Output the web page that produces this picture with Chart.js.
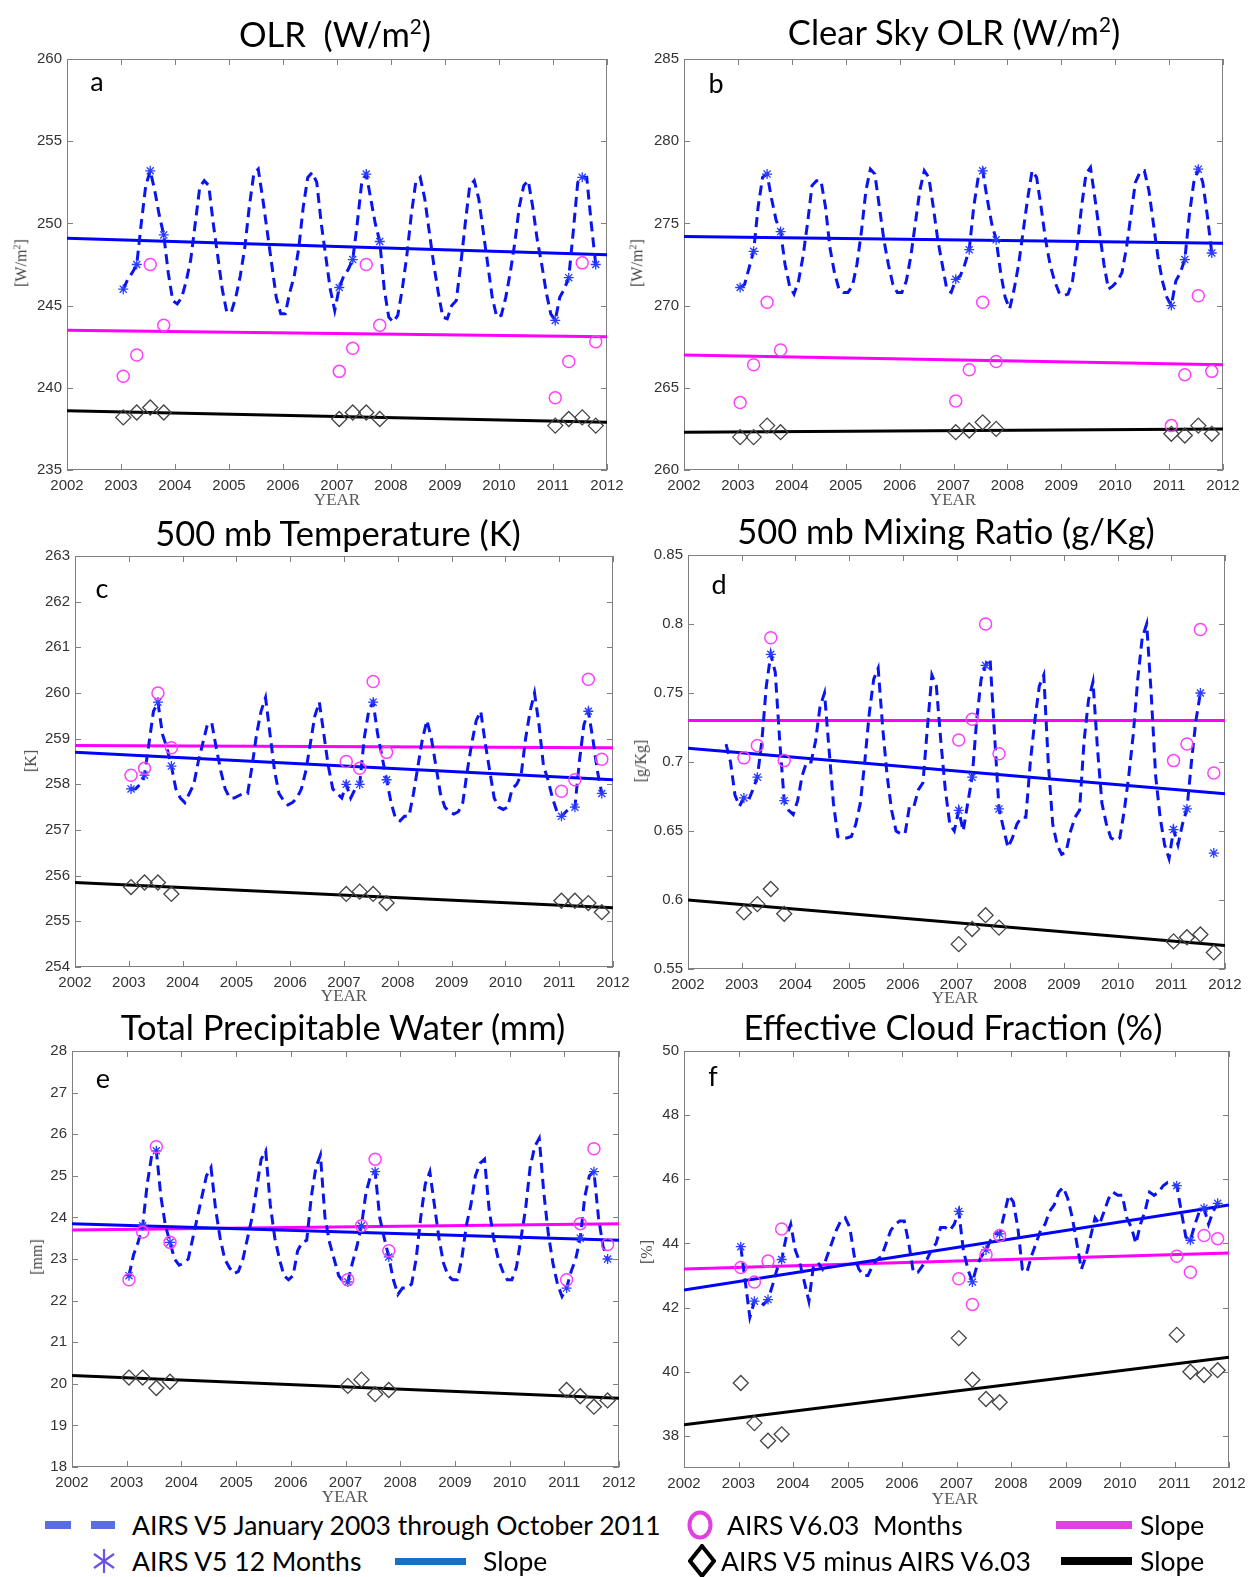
<!DOCTYPE html>
<html>
<head>
<meta charset="utf-8">
<script src="https://cdn.jsdelivr.net/npm/chart.js@4.4.1/dist/chart.umd.min.js"></script>
<style>
  body { margin:0; background:#fff; width:1248px; height:1577px; position:relative; overflow:hidden; font-family:Lato, "Open Sans", sans-serif; }
  canvas { position:absolute; }
  .title { position:absolute; font-size:34.5px; transform:translate(-50%,-50%); white-space:nowrap; color:#000; }
  .title sup { font-size:60%; }
  .letter { position:absolute; font-size:27px; transform:translate(-50%,-50%); color:#000; }
  .xlab { position:absolute; font-family:"Liberation Serif", serif; font-size:17px; color:#555; transform:translate(-50%,-50%); }
  .ylab { position:absolute; font-family:"Liberation Serif", serif; font-size:16px; color:#444; transform:translate(-50%,-50%) rotate(-90deg); white-space:nowrap; }
  .ylab sup { font-size:65%; }
  .leg { position:absolute; font-size:26.5px; color:#000; white-space:nowrap; transform:translateY(-50%); }
  .bar { position:absolute; }
</style>
</head>
<body>
<script>
// ---- shared axis data ----
const yearTicks = [2002, 2003, 2004, 2005, 2006, 2007, 2008, 2009, 2010, 2011, 2012];
const sampleYears = [2003, 2007, 2011];
const sampleMonths = [0, 3, 6, 9];      // Jan, Apr, Jul, Oct
const slopeYears = [2002, 2012];

// ---- a: OLR ----
const olrTicks = [235, 240, 245, 250, 255, 260];
const olrMonthly = [
  246.0, 246.6, 247.0, 247.5, 250.0, 252.3, 253.2, 252.0, 250.5, 249.3, 247.0, 245.3,
  245.1, 245.5, 246.5, 247.8, 250.0, 252.2, 252.6, 252.3, 250.0, 248.0, 246.0, 244.6,
  244.6, 245.5, 246.8, 248.5, 251.0, 253.0, 253.3, 251.5, 249.5, 247.5, 245.5, 244.5,
  244.5, 245.8, 246.8, 248.5, 251.0, 252.8, 253.1, 252.5, 250.0, 248.0, 246.0, 244.7,
  246.1, 246.8, 247.2, 247.8, 250.0, 252.5, 253.0, 251.5, 250.0, 248.9, 246.0, 244.3,
  244.0, 244.4, 246.0, 248.0, 250.5, 252.5, 252.8, 251.5, 249.5, 247.5, 245.8, 244.3,
  244.2, 245.0, 245.3, 247.5, 250.0, 252.3, 252.6, 251.5, 249.5, 247.5, 245.5, 244.3,
  244.4, 245.5, 247.0, 248.8, 251.0, 252.3, 252.6, 251.0, 249.0, 247.5, 245.8, 244.5,
  244.1, 245.5, 246.0, 246.7, 249.5, 252.5, 252.8, 252.8, 250.0, 247.5
];
const olrV5 = [246.0, 247.5, 253.2, 249.3, 246.1, 247.8, 253.0, 248.9, 244.1, 246.7, 252.8, 247.5];
const olrV6 = [240.7, 242.0, 247.5, 243.8, 241.0, 242.4, 247.5, 243.8, 239.4, 241.6, 247.6, 242.8];
const olrDiff = [238.2, 238.5, 238.8, 238.5, 238.1, 238.5, 238.5, 238.1, 237.7, 238.1, 238.2, 237.7];
const olrSlopeV5 = [249.1, 248.1];
const olrSlopeV6 = [243.5, 243.1];
const olrSlopeDiff = [238.6, 237.9];

// ---- b: Clear sky OLR ----
const clrTicks = [260, 265, 270, 275, 280, 285];
const clrMonthly = [
  271.1, 271.3, 272.3, 273.3, 276.0, 277.8, 278.0, 276.5, 275.2, 274.5, 272.5, 271.2,
  270.7, 271.5, 273.0, 275.0, 277.3, 277.6, 277.6, 276.0, 273.5, 272.0, 271.0, 270.8,
  270.8, 271.2, 272.5, 274.5, 277.0, 278.3, 278.0, 276.0, 274.0, 272.5, 271.3, 270.8,
  270.8, 271.5, 273.0, 275.0, 277.0, 278.2, 277.8, 276.0, 274.0, 272.5, 271.0, 270.8,
  271.6, 271.8, 272.5, 273.4, 276.0, 277.8, 278.2, 276.5, 275.0, 274.0, 272.0, 270.5,
  269.8, 271.0, 272.5, 274.5, 276.5, 278.2, 277.8, 276.0, 274.0, 272.5, 271.5, 270.8,
  270.6, 270.7, 271.5, 273.5, 276.0, 278.0, 278.4, 276.5, 274.5, 272.5, 271.0, 271.2,
  271.5, 272.0, 273.5, 275.5, 277.5, 278.1, 278.2, 277.0, 275.0, 273.0, 271.5, 270.5,
  270.0, 271.5, 272.0, 272.8, 275.5, 277.5, 278.3, 277.5, 275.5, 273.2
];
const clrV5 = [271.1, 273.3, 278.0, 274.5, 271.6, 273.4, 278.2, 274.0, 270.0, 272.8, 278.3, 273.2];
const clrV6 = [264.1, 266.4, 270.2, 267.3, 264.2, 266.1, 270.2, 266.6, 262.7, 265.8, 270.6, 266.0];
const clrDiff = [262.0, 262.0, 262.7, 262.3, 262.3, 262.4, 262.9, 262.5, 262.2, 262.1, 262.7, 262.2];
const clrSlopeV5 = [274.2, 273.8];
const clrSlopeV6 = [267.0, 266.4];
const clrSlopeDiff = [262.3, 262.5];

// ---- c: 500 mb temperature ----
const tmpTicks = [254, 255, 256, 257, 258, 259, 260, 261, 262, 263];
const tmpMonthly = [
  257.9, 257.9, 258.0, 258.2, 258.9, 259.6, 259.8, 259.1, 258.8, 258.4, 257.9, 257.7,
  257.6, 257.8, 258.0, 258.5, 258.9, 259.3, 259.35, 258.8, 258.3, 257.9, 257.7, 257.7,
  257.75, 257.8, 257.8, 258.4, 259.1, 259.6, 259.9, 259.1, 258.3, 257.8, 257.65, 257.55,
  257.6, 257.7, 257.9, 258.3, 258.9, 259.5, 259.8, 259.1, 258.4, 257.9, 257.8, 257.7,
  258.0, 257.7, 257.9, 258.0, 259.0, 259.6, 259.8, 259.1, 258.6, 258.1, 257.6, 257.25,
  257.2, 257.3, 257.3, 257.8, 258.4, 259.0, 259.4, 259.0, 258.4, 257.8, 257.5, 257.4,
  257.35, 257.4, 257.6, 258.3, 258.9, 259.4, 259.6, 258.9, 258.3, 257.7, 257.5, 257.45,
  257.5, 257.9, 258.0, 258.2, 259.0, 259.6, 260.0, 259.3, 258.4, 258.1, 257.7, 257.4,
  257.3, 257.4, 257.5, 257.5, 258.5, 259.3, 259.6, 259.0, 258.3, 257.8
];
const tmpV5 = [257.9, 258.2, 259.8, 258.4, 258.0, 258.0, 259.8, 258.1, 257.3, 257.5, 259.6, 257.8];
const tmpV6 = [258.2, 258.35, 260.0, 258.8, 258.5, 258.35, 260.25, 258.7, 257.85, 258.1, 260.3, 258.55];
const tmpDiff = [255.75, 255.85, 255.85, 255.6, 255.6, 255.65, 255.6, 255.4, 255.45, 255.45, 255.4, 255.2];
const tmpSlopeV5 = [258.7, 258.1];
const tmpSlopeV6 = [258.85, 258.8];
const tmpSlopeDiff = [255.85, 255.3];

// ---- d: 500 mb mixing ratio (monthly series starts Sep 2002) ----
const mixTicks = [0.55, 0.6, 0.65, 0.7, 0.75, 0.8, 0.85];
const mixFirstMonth = 2002 + 8 / 12;
const mixMonthly = [
  0.713, 0.700, 0.676, 0.668,
  0.674, 0.672, 0.680, 0.689, 0.715, 0.755, 0.778, 0.765, 0.715, 0.672, 0.665, 0.662,
  0.672, 0.690, 0.700, 0.700, 0.715, 0.740, 0.750, 0.710, 0.670, 0.646, 0.645, 0.645,
  0.646, 0.655, 0.670, 0.700, 0.735, 0.760, 0.768, 0.725, 0.690, 0.665, 0.650, 0.648,
  0.648, 0.668, 0.668, 0.680, 0.685, 0.725, 0.763, 0.755, 0.715, 0.680, 0.655, 0.650,
  0.665, 0.650, 0.670, 0.689, 0.730, 0.760, 0.770, 0.775, 0.720, 0.666, 0.652, 0.638,
  0.645, 0.655, 0.660, 0.660, 0.700, 0.730, 0.755, 0.763, 0.700, 0.655, 0.640, 0.633,
  0.635, 0.650, 0.660, 0.665, 0.715, 0.745, 0.758, 0.710, 0.670, 0.655, 0.645, 0.643,
  0.645, 0.665, 0.690, 0.720, 0.760, 0.790, 0.800, 0.750, 0.690, 0.660, 0.640, 0.630,
  0.651, 0.640, 0.655, 0.666, 0.700, 0.730, 0.750
];
const mixV5 = [0.674, 0.689, 0.778, 0.672, 0.665, 0.689, 0.770, 0.666, 0.651, 0.666, 0.750, 0.634];
const mixV6 = [0.703, 0.712, 0.790, 0.701, 0.716, 0.731, 0.800, 0.706, 0.701, 0.713, 0.796, 0.692];
const mixDiff = [0.591, 0.597, 0.608, 0.590, 0.568, 0.579, 0.589, 0.580, 0.570, 0.573, 0.575, 0.562];
const mixSlopeV5 = [0.710, 0.677];
const mixSlopeV6 = [0.730, 0.730];
const mixSlopeDiff = [0.600, 0.567];

// ---- e: total precipitable water ----
const tpwTicks = [18, 19, 20, 21, 22, 23, 24, 25, 26, 27, 28];
const tpwMonthly = [
  22.6, 23.1, 23.4, 23.8, 24.8, 25.5, 25.6, 24.5, 23.8, 23.4, 23.0, 22.85,
  22.9, 23.0, 23.5, 24.0, 24.5, 25.0, 25.2, 24.2, 23.5, 23.0, 22.8, 22.65,
  22.7, 23.0, 23.5, 24.0, 24.7, 25.4, 25.6, 24.3, 23.5, 23.0, 22.6, 22.5,
  22.6, 23.2, 23.4, 23.45, 24.5, 25.2, 25.5, 24.0, 23.4, 23.0, 22.6, 22.45,
  22.45, 22.9, 23.3, 23.8, 24.6, 25.0, 25.1, 24.0, 23.5, 23.05, 22.5, 22.15,
  22.3, 22.3, 22.4, 23.0, 24.0, 24.8, 25.1, 24.3, 23.5, 22.9, 22.6, 22.5,
  22.5, 23.0, 23.8, 24.3, 25.0, 25.3, 25.4, 24.2, 23.5, 23.0, 22.7, 22.5,
  22.5, 22.8, 23.5, 24.2, 25.2, 25.7, 25.9, 24.6, 23.6, 22.9, 22.4, 22.1,
  22.3, 22.7, 23.0, 23.5, 24.5, 25.0, 25.1, 24.0, 23.3, 23.0
];
const tpwV5 = [22.6, 23.8, 25.6, 23.4, 22.45, 23.8, 25.1, 23.05, 22.3, 23.5, 25.1, 23.0];
const tpwV6 = [22.5, 23.65, 25.7, 23.4, 22.5, 23.8, 25.4, 23.2, 22.5, 23.85, 25.65, 23.35];
const tpwDiff = [20.15, 20.15, 19.9, 20.05, 19.95, 20.1, 19.75, 19.85, 19.85, 19.7, 19.45, 19.6];
const tpwSlopeV5 = [23.85, 23.45];
const tpwSlopeV6 = [23.7, 23.85];
const tpwSlopeDiff = [20.2, 19.65];

// ---- f: effective cloud fraction ----
const cldTicks = [38, 40, 42, 44, 46, 48, 50];
const cldMonthly = [
  43.9, 42.8, 41.7, 42.2, 42.2, 42.1, 42.25, 42.7, 43.2, 43.5, 44.2, 44.6,
  43.8, 43.4, 42.8, 42.2, 43.3, 43.4, 43.2, 43.6, 44.0, 44.4, 44.7, 44.8,
  44.5, 43.6, 43.2, 43.0, 43.0, 43.3, 43.5, 43.6, 44.0, 44.4, 44.6, 44.7,
  44.7, 44.0, 43.1, 43.1, 43.3, 43.5, 43.8, 44.0, 44.5, 44.5, 44.4, 44.6,
  45.0, 43.8, 43.2, 42.8, 43.3, 43.6, 43.8, 44.1, 44.3, 44.3, 44.9, 45.5,
  45.3, 44.5, 43.2, 43.1, 43.6, 44.0, 44.4, 44.6, 45.0, 45.2, 45.6, 45.75,
  45.4, 44.8, 44.0, 43.2, 43.6, 44.2, 44.8, 44.6, 45.0, 45.4, 45.6, 45.5,
  45.5, 44.8, 44.5, 44.0, 44.6, 45.0, 45.6, 45.5, 45.6, 45.8, 45.9, 45.85,
  45.8, 45.0, 44.2, 44.1, 44.6, 45.0, 45.1, 44.6, 45.0, 45.25
];
const cldV5 = [43.9, 42.2, 42.25, 43.5, 45.0, 42.8, 43.8, 44.3, 45.8, 44.1, 45.1, 45.25];
const cldV6 = [43.25, 42.8, 43.45, 44.45, 42.9, 42.1, 43.65, 44.25, 43.6, 43.1, 44.25, 44.15];
const cldDiff = [39.65, 38.4, 37.85, 38.05, 41.05, 39.75, 39.15, 39.05, 41.15, 40.0, 39.9, 40.05];
const cldSlopeV5 = [42.55, 45.2];
const cldSlopeV6 = [43.2, 43.7];
const cldSlopeDiff = [38.35, 40.45];

// ---- helpers ----
const sampleX = [];
sampleYears.forEach(yr => sampleMonths.forEach(m => sampleX.push(yr + (m + 0.5) / 12)));
const atSamples = vals => vals.map((v, i) => ({ x: sampleX[i], y: v }));
const monthly = (start, vals) => vals.map((v, i) => ({ x: start + (i + 0.5) / 12, y: v }));
const slope = ends => ends.map((v, i) => ({ x: slopeYears[i], y: v }));

const framePlugin = {
  id: 'frame',
  beforeDatasetsDraw(chart) {
    const { ctx, chartArea: a, scales: { x, y } } = chart;
    ctx.save();
    ctx.strokeStyle = '#808080';
    ctx.lineWidth = 1;
    ctx.strokeRect(a.left + 0.5, a.top + 0.5, a.right - a.left - 1, a.bottom - a.top - 1);
    ctx.beginPath();
    x.ticks.forEach(t => {
      const px = Math.round(x.getPixelForValue(t.value)) + 0.5;
      ctx.moveTo(px, a.bottom); ctx.lineTo(px, a.bottom - 6);
      ctx.moveTo(px, a.top); ctx.lineTo(px, a.top + 6);
    });
    y.ticks.forEach(t => {
      const py = Math.round(y.getPixelForValue(t.value)) + 0.5;
      ctx.moveTo(a.left, py); ctx.lineTo(a.left + 6, py);
      ctx.moveTo(a.right, py); ctx.lineTo(a.right - 6, py);
    });
    ctx.stroke();
    ctx.restore();
  }
};

function addText(cls, html, x, y) {
  const d = document.createElement('div');
  d.className = cls;
  d.innerHTML = html;
  d.style.left = x + 'px';
  d.style.top = y + 'px';
  document.body.appendChild(d);
}

function makePanel(p) {
  const [L, T, R, B] = p.rect;
  const padL = 64, padT = 12, padR = 24, padB = 34;
  const w = R - L + padL + padR, h = B - T + padT + padB;
  const cv = document.createElement('canvas');
  cv.width = w; cv.height = h;
  cv.style.left = (L - padL) + 'px'; cv.style.top = (T - padT) + 'px';
  cv.style.width = w + 'px'; cv.style.height = h + 'px';
  document.body.appendChild(cv);

  const yTicks = p.yTicks;
  new Chart(cv, {
    type: 'line',
    data: {
      datasets: [
        { data: atSamples(p.diff), showLine: false, pointStyle: 'rectRot', pointRadius: 7.5,
          borderColor: '#444', backgroundColor: 'rgba(0,0,0,0)', borderWidth: 1.3 },
        { data: atSamples(p.v6), showLine: false, pointStyle: 'circle', pointRadius: 6,
          borderColor: '#ff40ff', backgroundColor: 'rgba(0,0,0,0)', borderWidth: 1.5 },
        { data: atSamples(p.v5), showLine: false, pointStyle: 'star', pointRadius: 5,
          borderColor: '#2a3cff', backgroundColor: '#2a3cff', borderWidth: 1.3 },
        { data: monthly(p.start, p.monthly), borderColor: '#0a14f0', borderWidth: 3,
          borderDash: [10, 6], pointRadius: 0, tension: 0, fill: false },
        { data: slope(p.sV5), borderColor: '#0000ff', borderWidth: 3, pointRadius: 0 },
        { data: slope(p.sV6), borderColor: '#ff00ff', borderWidth: 3, pointRadius: 0 },
        { data: slope(p.sDiff), borderColor: '#000000', borderWidth: 3, pointRadius: 0 }
      ]
    },
    options: {
      responsive: false,
      animation: false,
      devicePixelRatio: 1,
      layout: { padding: { left: 0, top: padT, right: padR, bottom: 0 } },
      plugins: { legend: { display: false }, tooltip: { enabled: false } },
      scales: {
        x: {
          type: 'linear', min: yearTicks[0], max: yearTicks[yearTicks.length - 1],
          grid: { display: false, drawTicks: false }, border: { display: false },
          afterBuildTicks(s) { s.ticks = yearTicks.map(v => ({ value: v })); },
          ticks: { padding: 7, color: '#333', autoSkip: false, maxRotation: 0,
                   font: { family: 'Liberation Sans', size: 15 }, callback: v => String(v) },
          afterFit(s) { s.height = padB; }
        },
        y: {
          type: 'linear', min: p.yMin, max: p.yMax,
          grid: { display: false, drawTicks: false }, border: { display: false },
          afterBuildTicks(s) { s.ticks = yTicks.map(v => ({ value: v })); },
          ticks: { padding: 5, color: '#333', autoSkip: false,
                   font: { family: 'Liberation Sans', size: 15 }, callback: v => String(+v.toFixed(2)) },
          afterFit(s) { s.width = padL; }
        }
      }
    },
    plugins: [framePlugin]
  });

  addText('title', p.title, p.titlePos[0], p.titlePos[1]);
  addText('letter', p.letter, p.letterPos[0], p.letterPos[1]);
  addText('xlab', 'YEAR', p.xlabPos[0], p.xlabPos[1]);
  addText('ylab', p.ylab, p.ylabPos[0], p.ylabPos[1]);
}

const panels = [
  { rect: [67, 57, 607, 470], yMin: 235, yMax: 260, yTicks: olrTicks, start: 2003,
    monthly: olrMonthly, v5: olrV5, v6: olrV6, diff: olrDiff, sV5: olrSlopeV5, sV6: olrSlopeV6, sDiff: olrSlopeDiff,
    title: 'OLR&nbsp; (W/m<sup>2</sup>)', titlePos: [335, 33], letter: 'a', letterPos: [97, 80],
    xlabPos: [337, 500], ylab: '[W/m<sup>2</sup>]', ylabPos: [21, 263] },
  { rect: [684, 57, 1223, 470], yMin: 260, yMax: 285, yTicks: clrTicks, start: 2003,
    monthly: clrMonthly, v5: clrV5, v6: clrV6, diff: clrDiff, sV5: clrSlopeV5, sV6: clrSlopeV6, sDiff: clrSlopeDiff,
    title: 'Clear Sky OLR (W/m<sup>2</sup>)', titlePos: [954, 31], letter: 'b', letterPos: [716, 82],
    xlabPos: [953, 500], ylab: '[W/m<sup>2</sup>]', ylabPos: [637, 263] },
  { rect: [75, 554, 613, 967], yMin: 254, yMax: 263, yTicks: tmpTicks, start: 2003,
    monthly: tmpMonthly, v5: tmpV5, v6: tmpV6, diff: tmpDiff, sV5: tmpSlopeV5, sV6: tmpSlopeV6, sDiff: tmpSlopeDiff,
    title: '500 mb Temperature (K)', titlePos: [338, 532], letter: 'c', letterPos: [102, 587],
    xlabPos: [344, 996], ylab: '[K]', ylabPos: [31, 761] },
  { rect: [688, 553, 1225, 969], yMin: 0.55, yMax: 0.85, yTicks: mixTicks, start: mixFirstMonth,
    monthly: mixMonthly, v5: mixV5, v6: mixV6, diff: mixDiff, sV5: mixSlopeV5, sV6: mixSlopeV6, sDiff: mixSlopeDiff,
    title: '500 mb Mixing Ratio (g/Kg)', titlePos: [946, 530], letter: 'd', letterPos: [719, 583],
    xlabPos: [955, 998], ylab: '[g/Kg]', ylabPos: [641, 761] },
  { rect: [72, 1049, 619, 1467], yMin: 18, yMax: 28, yTicks: tpwTicks, start: 2003,
    monthly: tpwMonthly, v5: tpwV5, v6: tpwV6, diff: tpwDiff, sV5: tpwSlopeV5, sV6: tpwSlopeV6, sDiff: tpwSlopeDiff,
    title: 'Total Precipitable Water (mm)', titlePos: [343, 1026], letter: 'e', letterPos: [103, 1077],
    xlabPos: [345, 1497], ylab: '[mm]', ylabPos: [37, 1257] },
  { rect: [684, 1049, 1229, 1468], yMin: 37, yMax: 50, yTicks: cldTicks, start: 2003,
    monthly: cldMonthly, v5: cldV5, v6: cldV6, diff: cldDiff, sV5: cldSlopeV5, sV6: cldSlopeV6, sDiff: cldSlopeDiff,
    title: 'Effective Cloud Fraction (%)', titlePos: [953, 1026], letter: 'f', letterPos: [713, 1075],
    xlabPos: [955, 1499], ylab: '[%]', ylabPos: [647, 1252] }
];
panels.forEach(makePanel);

// ---- legend ----
function addBar(x, y, w, h, color) {
  const d = document.createElement('div');
  d.className = 'bar';
  Object.assign(d.style, { left: x + 'px', top: y + 'px', width: w + 'px', height: h + 'px', background: color });
  document.body.appendChild(d);
}
function addSvg(x, y, w, h, inner) {
  const d = document.createElement('div');
  d.className = 'bar';
  Object.assign(d.style, { left: x + 'px', top: y + 'px', width: w + 'px', height: h + 'px' });
  d.innerHTML = '<svg width="' + w + '" height="' + h + '" viewBox="0 0 ' + w + ' ' + h + '">' + inner + '</svg>';
  document.body.appendChild(d);
}
const row1 = 1525, row2 = 1561;
addBar(45, row1 - 4, 26, 8, '#5a6ee2');
addBar(91, row1 - 4, 24, 8, '#5a6ee2');
addText('leg', 'AIRS V5 January 2003 through October 2011', 132, row1);
addSvg(686, row1 - 15, 28, 30, '<ellipse cx="14" cy="15" rx="10.5" ry="12.5" fill="none" stroke="#e040e0" stroke-width="4"/>');
addText('leg', 'AIRS V6.03&nbsp; Months', 727, row1);
addBar(1056, row1 - 4, 76, 8, '#dd44dd');
addText('leg', 'Slope', 1140, row1);

addSvg(92, row2 - 13, 24, 26, '<g stroke="#6a52e8" stroke-width="2.2"><line x1="12" y1="1" x2="12" y2="25"/><line x1="2" y1="6" x2="22" y2="20"/><line x1="2" y1="20" x2="22" y2="6"/></g>');
addText('leg', 'AIRS V5 12 Months', 132, row2);
addBar(395, row2 - 3, 71, 7, '#1a70c0');
addText('leg', 'Slope', 483, row2);
addSvg(688, row2 - 17, 28, 34, '<polygon points="14,2 26,17 14,32 2,17" fill="none" stroke="#000" stroke-width="4"/>');
addText('leg', 'AIRS V5 minus AIRS V6.03', 721, row2);
addBar(1061, row2 - 4, 71, 8, '#000');
addText('leg', 'Slope', 1140, row2);
</script>
</body>
</html>
